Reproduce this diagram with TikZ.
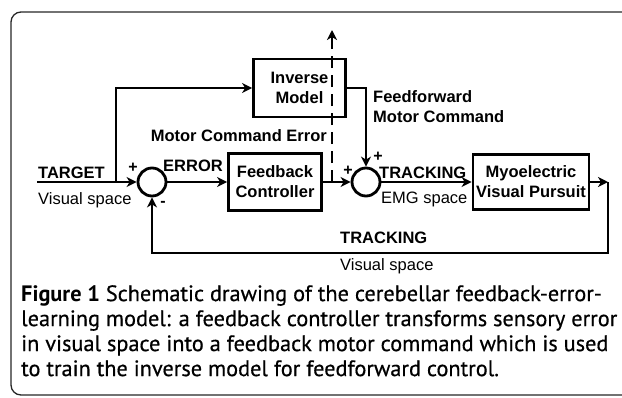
\documentclass[tikz,border=0pt]{standalone}
\usepackage{fontspec}
\setmainfont{Liberation Sans}
\newfontfamily\capfont{PT Sans}[UprightFeatures={FakeBold=0.5}]
\usetikzlibrary{arrows.meta}
\begin{document}
\begin{tikzpicture}[x=1pt,y=-1pt,
  ln/.style={line width=2.8pt},
  arr/.style={ln,-{Stealth[length=10pt,width=10pt,inset=3pt]}},
  blk/.style={draw,line width=2.8pt,align=center,inner sep=0pt,
    font=\bfseries\fontsize{16.5}{20}\selectfont},
  sumnode/.style={draw,circle,line width=2.8pt,minimum size=28pt,inner sep=0pt},
  lbl/.style={inner sep=0pt,font=\bfseries\fontsize{16.5}{20}\selectfont},
  rlbl/.style={inner sep=0pt,font=\fontsize{16.5}{20}\selectfont},
  sgn/.style={inner sep=0pt,font=\bfseries\fontsize{16}{18}\selectfont}]
\useasboundingbox (0,0) rectangle (622,397);
\begin{scope}
\clip (0,0) rectangle (622,397);
\draw[line width=1.3pt,rounded corners=10pt,black!85] (11,12) rectangle (700,395);
\end{scope}
% blocks
\node[blk,minimum width=92pt,minimum height=58pt] (inv) at (299.5,88) {Inverse\\Model};
\node[blk,minimum width=93pt,minimum height=57pt] (fb) at (275,182) {Feedback\\Controller};
\node[blk,minimum width=116pt,minimum height=55pt] (myo) at (531,182) {Myoelectric\\Visual Pursuit};
\node[sumnode] (s1) at (152,182) {};
\node[sumnode] (s2) at (366,182) {};
% coordinates
\coordinate (tin) at (37,182);
\coordinate (br) at (116,182);
\coordinate (oc) at (608,182);
\coordinate (ob) at (608,253);
\coordinate (ds) at (332,182);
\coordinate (dt) at (332,30);
% connectors
\draw[ln] (tin) -- (br);
\draw[arr] (br) -- (s1.west);
\draw[arr] (br) |- (inv.west);
\draw[arr] (s1.east) -- (fb.west);
\draw[arr] (fb.east) -- (s2.west);
\draw[arr] (inv.east) -| (s2.north);
\draw[arr] (s2.east) -- (myo.west);
\draw[arr] (myo.east) -- (oc);
\draw[arr] (oc) -- (ob) -| (s1.south);
\draw[arr,dash pattern=on 12pt off 7pt] (ds) -- (dt);
% labels
\node[lbl,anchor=west] (ltarget) at (38,173) {TARGET};
\node[rlbl,anchor=west] (lvs1) at (38,200) {Visual space};
\node[sgn] (p1) at (133,168) {+};
\node[sgn] (m1) at (163,204) {-};
\node[lbl,anchor=west] (lerr) at (163,166) {ERROR};
\node[sgn] (p2) at (348,171) {+};
\node[sgn] (p3) at (378,157) {+};
\node[lbl,anchor=west] (ltr1) at (379,173) {TRACKING};
\node[rlbl,anchor=west] (lemg) at (381,199) {EMG space};
\node[lbl,anchor=west] (ltr2) at (340,238) {TRACKING};
\node[rlbl,anchor=west] (lvs2) at (340,266) {Visual space};
\node[lbl,anchor=east] (lmce) at (327,136) {Motor Command Error};
\node[lbl,anchor=north west,align=left] (lff) at (373,90) {Feedforward\\Motor Command};
% caption
\node[anchor=north west,inner sep=0pt,align=left,
  font=\capfont\fontsize{22.3}{25}\selectfont] (cap) at (21,285)
  {{\bfseries Figure 1} Schematic drawing of the cerebellar feedback-error-\\
   learning model: a feedback controller transforms sensory error\\
   in visual space into a feedback motor command which is used\\
   to train the inverse model for feedforward control.};
\end{tikzpicture}
\end{document}
